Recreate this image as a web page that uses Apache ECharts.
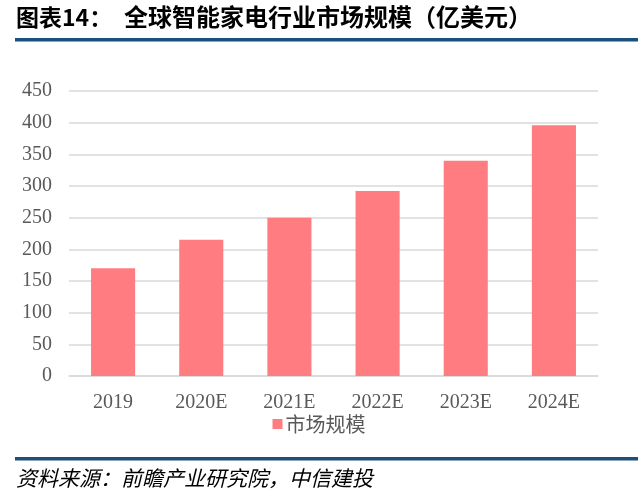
<!DOCTYPE html>
<html>
<head>
<meta charset="utf-8">
<script src="https://cdn.jsdelivr.net/npm/echarts@6/dist/echarts.min.js"></script>
<style>
  html, body { margin: 0; padding: 0; background: #fff; }
  #chart { width: 638px; height: 492px; }
</style>
</head>
<body>
<div id="chart"></div>
<script>
// data
const years = ['2019', '2020E', '2021E', '2022E', '2023E', '2024E'];
const marketSize = [170, 215, 250, 292, 340, 396];
const seriesName = '市场规模';
const titleLabel = '图表14：';
const titleText = '全球智能家电行业市场规模（亿美元）';
const sourceText = '资料来源：前瞻产业研究院，中信建投';

const serif = '"Liberation Serif", "Noto Sans CJK SC", serif';
const cjk = '"Noto Sans CJK SC", sans-serif';

let myChart = echarts.init(document.getElementById('chart'));
myChart.setOption({
    animation: false,
    grid: { left: 69, right: 40, top: 91, bottom: 116 },
    legend: {
        data: [seriesName],
        top: 414,
        left: 'center',
        padding: 0,
        itemWidth: 10,
        itemHeight: 10,
        itemGap: 4,
        icon: 'rect',
        textStyle: { fontFamily: cjk, fontSize: 20, color: '#595959', padding: [0, 0, 0, -2] }
    },
    xAxis: {
        type: 'category',
        data: years,
        axisLine: { lineStyle: { color: '#D9D9D9', width: 1.5 } },
        axisTick: { show: false },
        axisLabel: { fontFamily: serif, fontSize: 20, color: '#595959', margin: 17 }
    },
    yAxis: {
        type: 'value',
        min: 0,
        max: 450,
        interval: 50,
        axisLine: { show: false },
        axisTick: { show: false },
        splitLine: { lineStyle: { color: '#D9D9D9', width: 1.5 } },
        axisLabel: { fontFamily: serif, fontSize: 20, color: '#595959', margin: 17 }
    },
    series: [{
        name: seriesName,
        type: 'bar',
        data: marketSize,
        barWidth: '50%',
        itemStyle: { color: '#FF7C80' }
    }],
    graphic: [
        {
            type: 'text', x: 16, y: 17,
            style: { text: titleLabel, font: 'bold 23px ' + cjk, fill: '#000', verticalAlign: 'middle' }
        },
        {
            type: 'text', x: 124, y: 17,
            style: { text: titleText, font: 'bold 24px ' + cjk, fill: '#000', verticalAlign: 'middle' }
        },
        {
            type: 'rect', shape: { x: 15, y: 38, width: 623, height: 3.5 },
            style: { fill: '#1B4F7C' }
        },
        {
            type: 'rect', shape: { x: 15, y: 457, width: 623, height: 3.5 },
            style: { fill: '#1B4F7C' }
        },
        {
            type: 'text', x: 16, y: 478,
            style: { text: sourceText, font: 'italic 21px ' + cjk, fill: '#000', verticalAlign: 'middle' }
        }
    ]
});
</script>
</body>
</html>
